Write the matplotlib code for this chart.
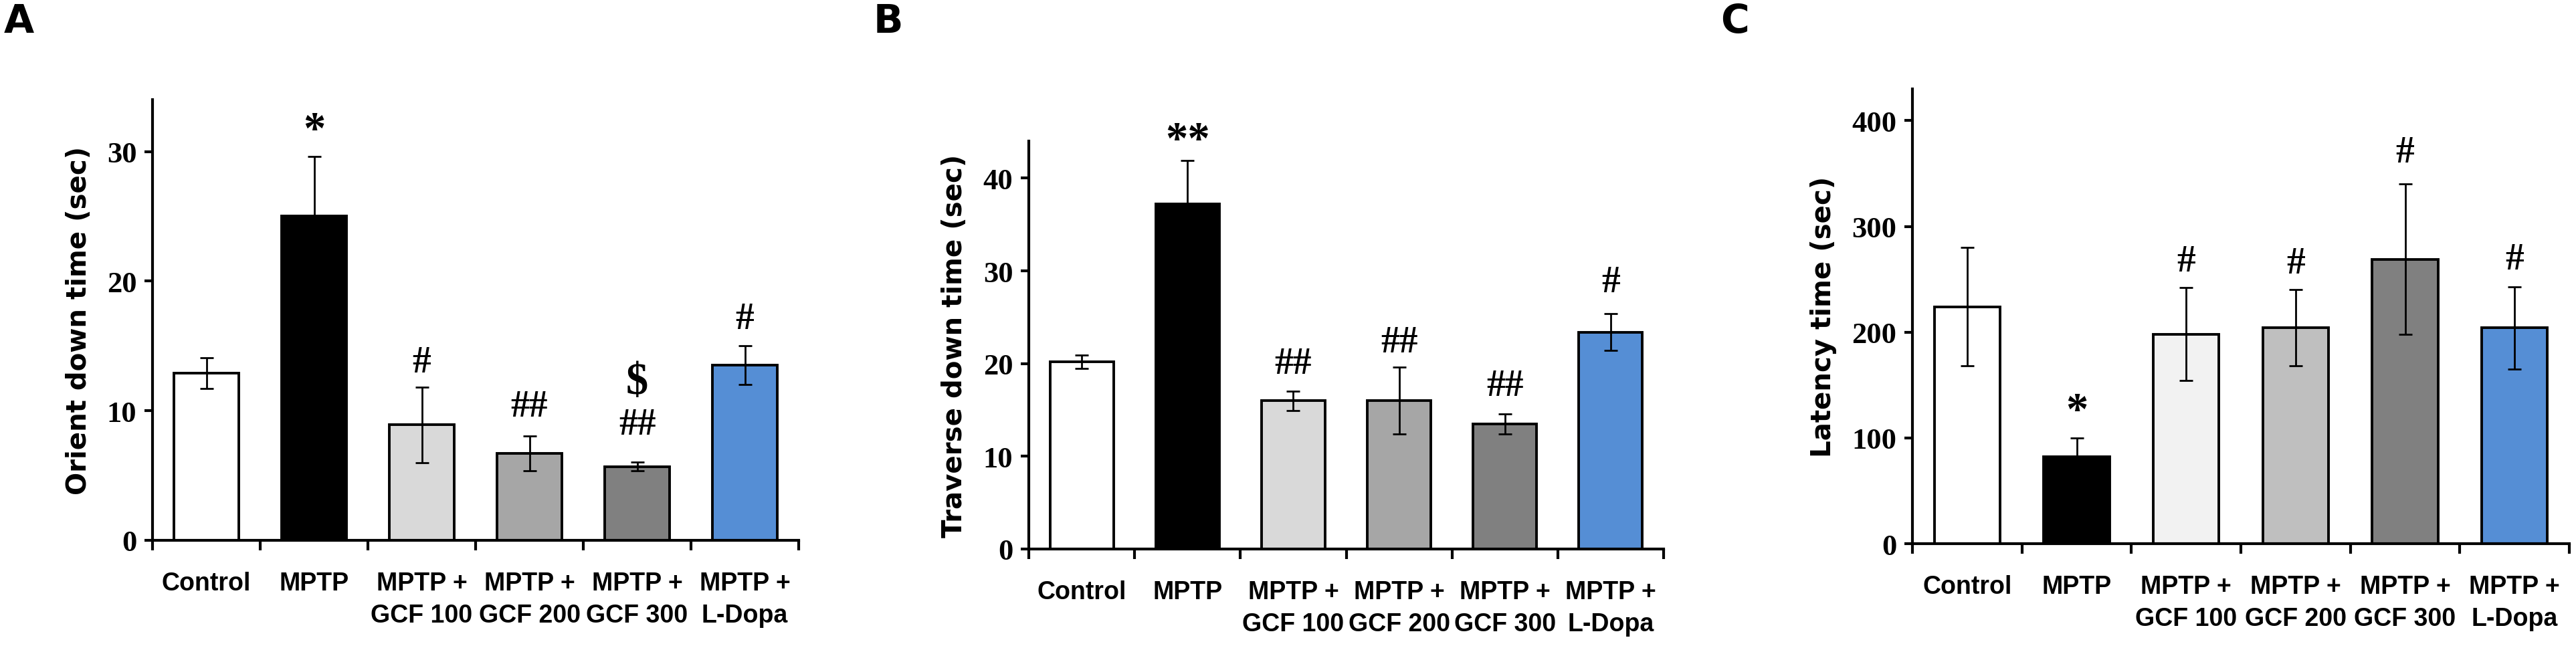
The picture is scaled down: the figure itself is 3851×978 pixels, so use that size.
import matplotlib
matplotlib.use("Agg")
import matplotlib.pyplot as plt
import numpy as np

# ---------------- data ----------------
categories = ["Control", "MPTP", "MPTP +\nGCF 100", "MPTP +\nGCF 200", "MPTP +\nGCF 300", "MPTP +\nL-Dopa"]

orient_mean = [12.9, 25.0, 8.9, 6.7, 5.7, 13.5]
orient_err = [1.2, 4.6, 2.9, 1.35, 0.35, 1.5]
orient_marks = ["", "*", "#", "##", "##", "#"]
orient_mark_y = [None, 31.6, 13.7, 10.3, 8.9, 17.1]

traverse_mean = [20.2, 37.2, 16.0, 16.0, 13.5, 23.4]
traverse_err = [0.7, 4.7, 1.05, 3.6, 1.1, 2.0]
traverse_marks = ["", "**", "##", "##", "##", "#"]
traverse_mark_y = [None, 44.0, 20.0, 22.3, 17.6, 28.8]

latency_mean = [224, 82, 198, 204, 269, 204]
latency_err = [56, 18, 44, 36, 71, 39]
latency_marks = ["", "*", "#", "#", "#", "#"]
latency_mark_y = [None, 125, 267, 265, 370, 269]

colors_ab = ["#FFFFFF", "#000000", "#D9D9D9", "#A6A6A6", "#808080", "#558ED5"]
colors_c = ["#FFFFFF", "#000000", "#F2F2F2", "#BFBFBF", "#808080", "#558ED5"]

W, H = 3851, 979
fig = plt.figure(figsize=(W / 100, H / 100), dpi=100)

label_font = ["Liberation Sans", "DejaVu Sans"]
num_font = ["Liberation Serif", "DejaVu Serif"]


def make_panel(rect_px, means, errs, colors, ylabel, ymax, yticks, marks, mark_y, letter, letter_xy):
    l, r, b, t = rect_px
    ax = fig.add_axes([l / W, 1 - b / H, (r - l) / W, (b - t) / H])
    x = np.arange(len(means))
    ax.bar(x, means, width=0.6, color=colors, edgecolor="black", linewidth=2.8, zorder=2)
    ax.errorbar(x, means, yerr=errs, fmt="none", ecolor="black", elinewidth=2.0,
                capsize=7, capthick=2.0, zorder=3)
    ax.set_xlim(-0.5, len(means) - 0.5)
    ax.set_ylim(0, ymax)
    ax.set_yticks(yticks)
    ax.set_yticklabels([str(v) for v in yticks], family=num_font, fontweight="bold", fontsize=32)
    ax.set_xticks(x)
    ax.set_xticklabels(categories, family=label_font, fontweight="bold", fontsize=27,
                       linespacing=1.45, va="top")
    ax.set_xticks(np.arange(len(means) + 1) - 0.5, minor=True)
    ax.tick_params(axis="x", which="major", length=0, pad=33)
    ax.tick_params(axis="x", which="minor", length=11, width=3, direction="out")
    ax.tick_params(axis="y", which="major", length=9, width=3, direction="out", pad=8)
    for s in ["top", "right"]:
        ax.spines[s].set_visible(False)
    for s in ["left", "bottom"]:
        ax.spines[s].set_linewidth(3)
    ax.set_ylabel(ylabel, fontsize=29, fontweight="bold", family=["DejaVu Sans"], labelpad=16)
    for xi, m, my in zip(x, marks, mark_y):
        if m:
            fs = 48 if "*" in m else 40
            ax.text(xi, my, m, ha="center", va="center", fontsize=fs, fontweight="bold",
                    family=num_font, zorder=4)
    fig.text(letter_xy[0] / W, 1 - letter_xy[1] / H, letter, fontsize=42, fontweight="bold",
             family=["DejaVu Sans"], ha="left", va="top")
    return ax


axA = make_panel((228, 1194, 809, 150), orient_mean, orient_err, colors_ab,
                 "Orient down time (sec)", 34, [0, 10, 20, 30], orient_marks, orient_mark_y,
                 "A", (6, 4))
axA.text(4, 12.2, "$", ha="center", va="center", fontsize=48, fontweight="bold",
         family=num_font, zorder=4)

make_panel((1538, 2487, 822, 212), traverse_mean, traverse_err, colors_ab,
           "Traverse down time (sec)", 44, [0, 10, 20, 30, 40], traverse_marks, traverse_mark_y,
           "B", (1306, 4))

make_panel((2859, 3841, 814, 134), latency_mean, latency_err, colors_c,
           "Latency time (sec)", 430, [0, 100, 200, 300, 400], latency_marks, latency_mark_y,
           "C", (2572, 4))

fig.savefig("out.png", dpi=100, facecolor="white")
